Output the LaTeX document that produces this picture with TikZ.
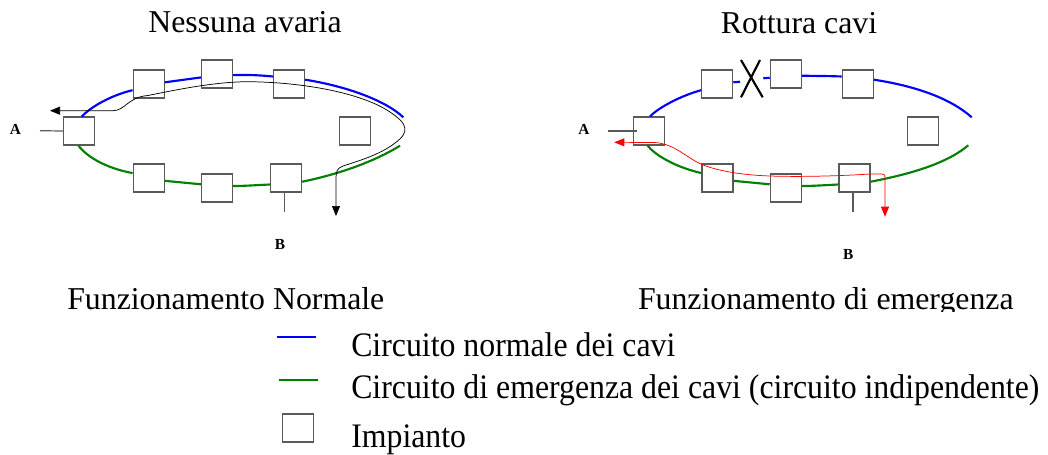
\documentclass[tikz,border=0pt]{standalone}
\usepackage{fontspec}
\setmainfont{Liberation Serif}
\usetikzlibrary{arrows.meta,calc}
\definecolor{cblue}{RGB}{0,0,255}
\definecolor{cgreen}{RGB}{0,128,0}
\definecolor{boxgray}{RGB}{90,90,90}
\begin{document}
\begin{tikzpicture}[x=0.75pt,y=-0.75pt,
  plant/.style={draw=boxgray,line width=0.9pt,fill=white,minimum width=23.25pt,minimum height=21pt,inner sep=0pt},
  normal/.style={cblue,line width=1.6pt},
  emerg/.style={cgreen,line width=1.6pt},
  stub/.style={boxgray,line width=0.9pt},
  flow/.style={black,line width=0.55pt},
  flowred/.style={red,line width=0.55pt},
  head/.style={-{Triangle[length=7.5pt,width=6pt]}},
  heads/.style={{Triangle[length=7.5pt,width=6pt]}-{Triangle[length=7.5pt,width=6pt]}},
  title/.style={font=\fontsize{23.85}{28}\selectfont,inner sep=0pt,anchor=base},
  legendtext/.style={font=\fontsize{23.85}{28}\selectfont,inner sep=0pt,anchor=base west},
  endlabel/.style={font=\fontsize{11.5}{13}\selectfont\bfseries,inner sep=0pt,anchor=base}]
\useasboundingbox (0,0) rectangle (1048,454);

% ---------- titles ----------
\node[title] (tl) at (245,32.7) {Nessuna avaria};
\node[title] (tr) at (799,33.3) {Rottura cavi};
\begin{scope}
  \clip (0,0) rectangle (1048,311);
  \node[title] (cl) at (225.8,309) {Funzionamento Normale};
  \node[title] (cr) at (825.8,309) {Funzionamento di emergenza};
\end{scope}

% ---------- left ring: normal operation ----------
\node[plant] (la)  at (79,131) {};
\node[plant] (lt1) at (148.7,84) {};
\node[plant] (lt2) at (217,74) {};
\node[plant] (lt3) at (289,84) {};
\node[plant] (lr)  at (354.7,131) {};
\node[plant] (lb1) at (148.7,178) {};
\node[plant] (lb2) at (217,188) {};
\node[plant] (lb3) at (286,178) {};
\coordinate (lbend) at (403.3,117.3);
\coordinate (lgend) at (400,145.7);

\draw[normal] (la.79) .. controls (92,106) and (112,95) .. (lt1.201);
\draw[normal] (lt1.6) -- (lt2.192);
\draw[normal] (lt2.-4) .. controls (250,74.5) and (262,75.5) .. (lt3.155);
\draw[normal] (lt3.15) .. controls (345,86) and (385,100) .. (lbend);

\draw[emerg] (la.-92) .. controls (86,156) and (105,168) .. (lb1.163);
\draw[emerg] (lb1.-10) -- (lb2.167);
\draw[emerg] (lb2.7) .. controls (245,186) and (258,185) .. (lb3.202);
\draw[emerg] (lb3.-13) .. controls (335,175) and (372,163) .. (lgend);

\coordinate (lastub) at (40,130.7);
\draw[stub] (lastub) -- (la.west);
\draw[stub] (lb3.-95) -- ++(0,19.7) coordinate (lbstub);

\node[endlabel] (lA) at (15.3,134) {A};
\node[endlabel] (lB) at (280,249.3) {B};

\coordinate (lpa) at (50,110.7);
\coordinate (lpb) at (336,216);
\draw[flow,heads] (lpa) -- (113,110.7)
  .. controls (125,110.7) and (128,97) .. (148,95.5)
  .. controls (180,89) and (215,82) .. (247,81.7)
  .. controls (300,82) and (360,92) .. (390,112)
  .. controls (408,124) and (410,132) .. (395,143)
  .. controls (380,155) and (355,162) .. (343,166)
  .. controls (337,168) and (336,172) .. (336,178)
  -- (lpb);

% ---------- right ring: cable break ----------
\node[plant] (ra)  at (648.8,131) {};
\node[plant] (rt1) at (717.2,84) {};
\node[plant] (rt2) at (785.8,74) {};
\node[plant] (rt3) at (857.8,84) {};
\node[plant] (rr)  at (923,131) {};
\node[plant] (rb1) at (717.5,178) {};
\node[plant] (rb2) at (785.8,188) {};
\node[plant] (rb3) at (854.5,178) {};
\coordinate (rbend) at (971.7,117.3);
\coordinate (rgend) at (968.3,145.3);
\coordinate (rx1) at (740,81.7);
\coordinate (rx2) at (763.3,78.3);

\draw[normal] (ra.85) .. controls (658,108) and (680,96) .. (rt1.201);
\draw[normal] (rt1.6) -- (rx1);
\draw[normal] (rx2) -- (rt2.193);
\draw[normal] (rt2.-6) .. controls (818,76) and (830,76) .. (rt3.155);
\draw[normal] (rt3.15) .. controls (915,86) and (950,98) .. (rbend);

\draw[emerg] (ra.265) .. controls (655,155) and (675,167) .. (rb1.163);
\draw[emerg] (rb1.-10) -- (rb2.167);
\draw[emerg] (rb2.7) .. controls (814,186) and (827,185) .. (rb3.202);
\draw[emerg] (rb3.-13) .. controls (905,175) and (945,165) .. (rgend);

% break mark
\coordinate (xa1) at (741,60);
\coordinate (xa2) at (762.7,97.3);
\coordinate (xb1) at (760,60);
\coordinate (xb2) at (741,97.3);
\draw[black,line width=1.6pt] (xa1) -- (xa2);
\draw[black,line width=1.6pt] (xb1) -- (xb2);

\coordinate (rastub) at (608.3,131);
\draw[stub] (rastub) -- ($(ra.west)+(4,0)$);
\draw[stub] (rb3.-96) -- ++(0,19.7) coordinate (rbstub);

\node[endlabel] (rA) at (583.8,134) {A};
\node[endlabel] (rB) at (848.3,259.3) {B};

\coordinate (rpa) at (614.3,142.3);
\coordinate (rpb) at (885,216.7);
\draw[flowred,heads] (rpa) -- (655,142.5)
  .. controls (672,144) and (680,152) .. (695,161)
  .. controls (710,170) and (740,175) .. (770,176)
  .. controls (800,177) and (840,176) .. (870,174)
  -- (882,174)
  .. controls (885,174) and (885,175) .. (885,178)
  -- (rpb);

% ---------- legend ----------
\coordinate (kb1) at (277,337);
\coordinate (kb2) at (316,337);
\coordinate (kg1) at (279,380);
\coordinate (kg2) at (318,380);
\draw[normal] (kb1) -- (kb2);
\draw[emerg] (kg1) -- (kg2);
\node[plant] (kp) at (298,428) {};
\node[legendtext] (k1) at (351,356.7) {\scalebox{1}[1.08]{Circuito normale dei cavi}};
\node[legendtext] (k2) at (351,398) {\scalebox{1}[1.08]{Circuito di emergenza dei cavi (circuito indipendente)}};
\node[legendtext] (k3) at (351,447.7) {\scalebox{1}[1.08]{Impianto}};
\end{tikzpicture}
\end{document}
